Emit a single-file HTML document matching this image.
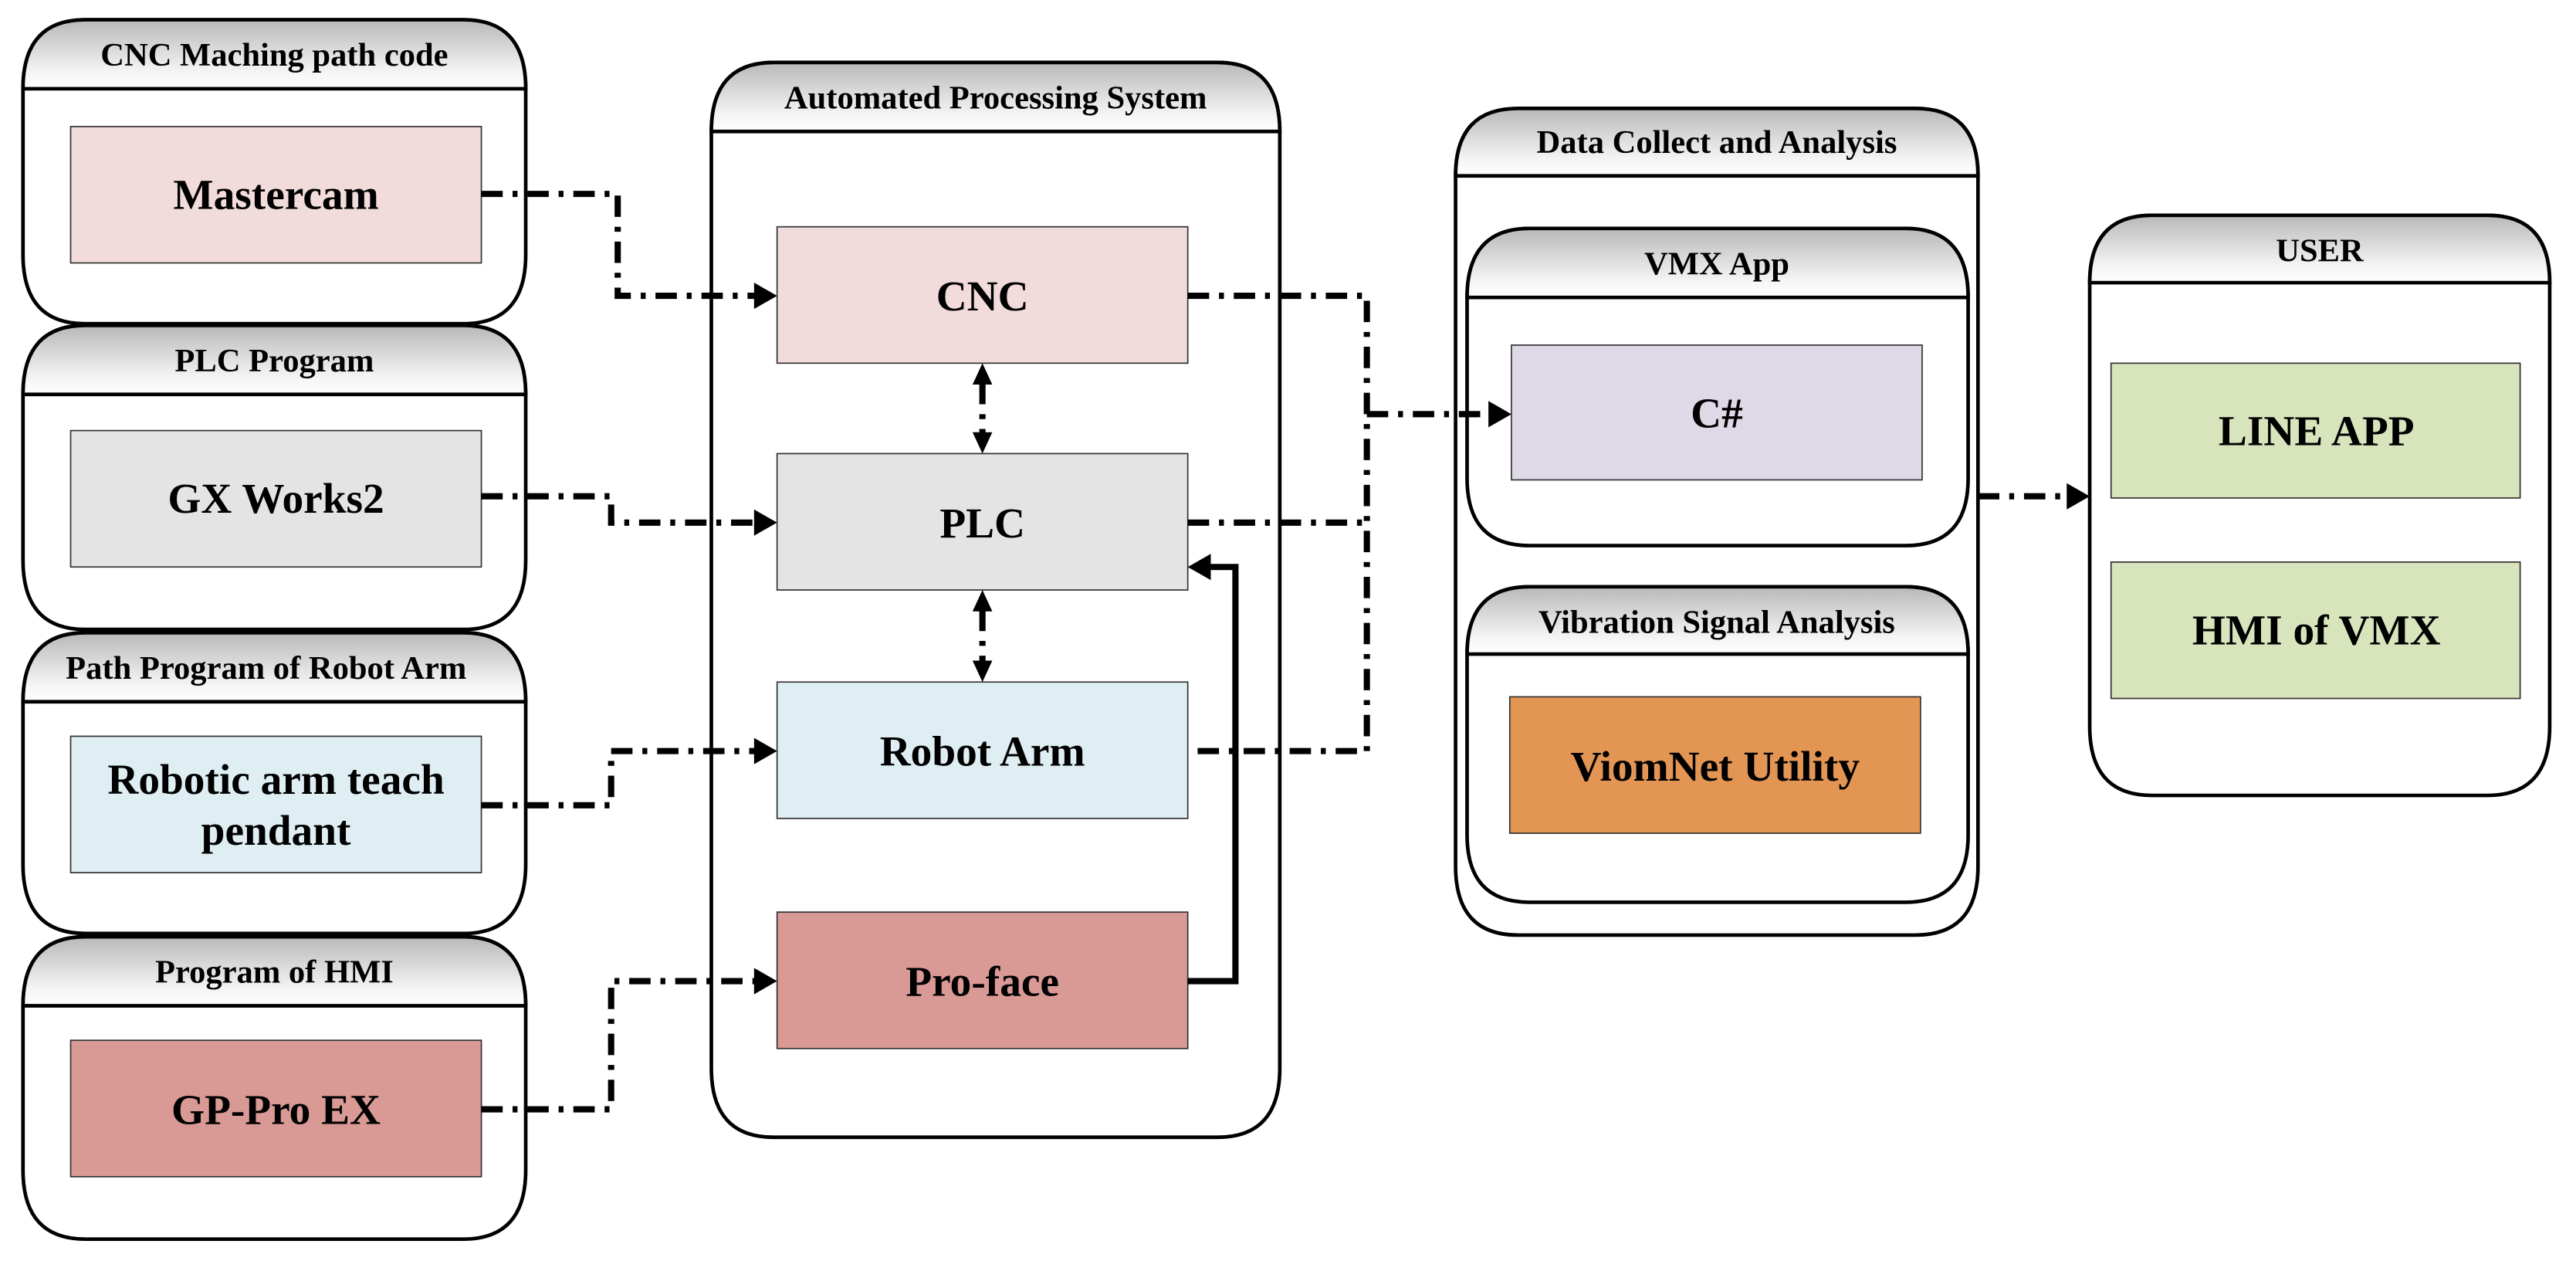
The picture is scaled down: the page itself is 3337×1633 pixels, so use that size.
<!DOCTYPE html>
<html><head><meta charset="utf-8"><style>
html,body{margin:0;padding:0;background:#fff;}
svg{display:block;}
text{font-family:"Liberation Serif",serif;font-weight:bold;fill:#000;}
</style></head><body>
<svg width="3337" height="1633" viewBox="0 0 1568 767.3" preserveAspectRatio="none" xmlns="http://www.w3.org/2000/svg">
<defs>
<linearGradient id="g" x1="0" y1="0" x2="0" y2="1">
<stop offset="0" stop-color="#b8b8b8"/><stop offset="0.75" stop-color="#f4f4f4"/><stop offset="1" stop-color="#ffffff"/>
</linearGradient>
</defs>

<g stroke="#000" stroke-width="2.2">
<path d="M14,54 Q14,12 52,12 L282,12 Q320,12 320,54 L320,155 Q320,197 282,197 L52,197 Q14,197 14,155 Z" fill="#fff"/>
<path d="M14,54 Q14,12 52,12 L282,12 Q320,12 320,54 Z" fill="url(#g)"/>
<path d="M14,240 Q14,198 52,198 L282,198 Q320,198 320,240 L320,341 Q320,383 282,383 L52,383 Q14,383 14,341 Z" fill="#fff"/>
<path d="M14,240 Q14,198 52,198 L282,198 Q320,198 320,240 Z" fill="url(#g)"/>
<path d="M14,427 Q14,385 52,385 L282,385 Q320,385 320,427 L320,526 Q320,568 282,568 L52,568 Q14,568 14,526 Z" fill="#fff"/>
<path d="M14,427 Q14,385 52,385 L282,385 Q320,385 320,427 Z" fill="url(#g)"/>
<path d="M14,612 Q14,570 52,570 L282,570 Q320,570 320,612 L320,712 Q320,754 282,754 L52,754 Q14,754 14,712 Z" fill="#fff"/>
<path d="M14,612 Q14,570 52,570 L282,570 Q320,570 320,612 Z" fill="url(#g)"/>

<path d="M433,80 Q433,38 471,38 L741,38 Q779,38 779,80 L779,650 Q779,692 741,692 L471,692 Q433,692 433,650 Z" fill="#fff"/>
<path d="M433,80 Q433,38 471,38 L741,38 Q779,38 779,80 Z" fill="url(#g)"/>

<path d="M886,107 Q886,66 924,66 L1166,66 Q1204,66 1204,107 L1204,527 Q1204,569 1166,569 L924,569 Q886,569 886,527 Z" fill="#fff"/>
<path d="M886,107 Q886,66 924,66 L1166,66 Q1204,66 1204,107 Z" fill="url(#g)"/>
<path d="M893,181 Q893,139 931,139 L1160,139 Q1198,139 1198,181 L1198,291 Q1198,332 1160,332 L931,332 Q893,332 893,291 Z" fill="#fff"/>
<path d="M893,181 Q893,139 931,139 L1160,139 Q1198,139 1198,181 Z" fill="url(#g)"/>
<path d="M893,398 Q893,357 931,357 L1160,357 Q1198,357 1198,398 L1198,508 Q1198,549 1160,549 L931,549 Q893,549 893,508 Z" fill="#fff"/>
<path d="M893,398 Q893,357 931,357 L1160,357 Q1198,357 1198,398 Z" fill="url(#g)"/>

<path d="M1272,172 Q1272,131 1310,131 L1514,131 Q1552,131 1552,172 L1552,442 Q1552,484 1514,484 L1310,484 Q1272,484 1272,442 Z" fill="#fff"/>
<path d="M1272,172 Q1272,131 1310,131 L1514,131 Q1552,131 1552,172 Z" fill="url(#g)"/>
</g>

<g stroke="#333" stroke-width="0.8">
<rect x="43" y="77" width="250" height="83" fill="#f2dcdb"/>
<rect x="43" y="262" width="250" height="83" fill="#e4e4e4"/>
<rect x="43" y="448" width="250" height="83" fill="#deeef3"/>
<rect x="43" y="633" width="250" height="83" fill="#d99a96"/>
<rect x="473" y="138" width="250" height="83" fill="#f2dcdb"/>
<rect x="473" y="276" width="250" height="83" fill="#e4e4e4"/>
<rect x="473" y="415" width="250" height="83" fill="#deeef3"/>
<rect x="473" y="555" width="250" height="83" fill="#d99a96"/>
<rect x="920" y="210" width="250" height="82" fill="#dfd9e7"/>
<rect x="919" y="424" width="250" height="83" fill="#e39654"/>
<rect x="1285" y="221" width="249" height="82" fill="#d8e4bc"/>
<rect x="1285" y="342" width="249" height="83" fill="#d8e4bc"/>
</g>

<g font-size="20" text-anchor="middle">
<text x="167" y="40">CNC Maching path code</text>
<text x="167" y="226">PLC Program</text>
<text x="162" y="413">Path Program of Robot Arm</text>
<text x="167" y="598">Program of HMI</text>
<text x="606" y="66">Automated Processing System</text>
<text x="1045" y="93">Data Collect and Analysis</text>
<text x="1045" y="167">VMX App</text>
<text x="1045" y="385">Vibration Signal Analysis</text>
<text x="1412" y="159">USER</text>
</g>
<g font-size="26" text-anchor="middle">
<text x="168" y="127">Mastercam</text>
<text x="168" y="312">GX Works2</text>
<text x="168" y="483">Robotic arm teach</text>
<text x="168" y="514">pendant</text>
<text x="168" y="684">GP-Pro EX</text>
<text x="598" y="189">CNC</text>
<text x="598" y="327">PLC</text>
<text x="598" y="466">Robot Arm</text>
<text x="598" y="606">Pro-face</text>
<text x="1045" y="260">C#</text>
<text x="1044" y="475">ViomNet Utility</text>
<text x="1410" y="271">LINE APP</text>
<text x="1410" y="392">HMI of VMX</text>
</g>

<g fill="none" stroke="#000" stroke-width="3.8" stroke-dasharray="13 6 3 6">
<path d="M293,118 H376 V180 H460"/>
<path d="M293,302 H372 V318 H460"/>
<path d="M293,490 H372 V457 H460"/>
<path d="M293,675 H372 V597 H460"/>
<path d="M598,233 V264"/>
<path d="M598,371 V403"/>
<path d="M723,180 H832 V457 H723"/>
<path d="M723,318 H832"/>
<path d="M832,252 H906"/>
<path d="M1204,302 H1258"/>
</g>
<path d="M723,597 H752 V345 H734" fill="none" stroke="#000" stroke-width="3.8"/>

<g fill="#000">
<polygon points="473,180 459,172 459,188"/>
<polygon points="473,318 459,310 459,326"/>
<polygon points="473,457 459,449 459,465"/>
<polygon points="473,597 459,589 459,605"/>
<polygon points="920,252 906,244 906,260"/>
<polygon points="1272,302 1258,294 1258,310"/>
<polygon points="723,345 737,337 737,353"/>
<polygon points="598,221 592,234 604,234"/>
<polygon points="598,276 592,263 604,263"/>
<polygon points="598,359 592,372 604,372"/>
<polygon points="598,415 592,402 604,402"/>
</g>
</svg>
</body></html>
